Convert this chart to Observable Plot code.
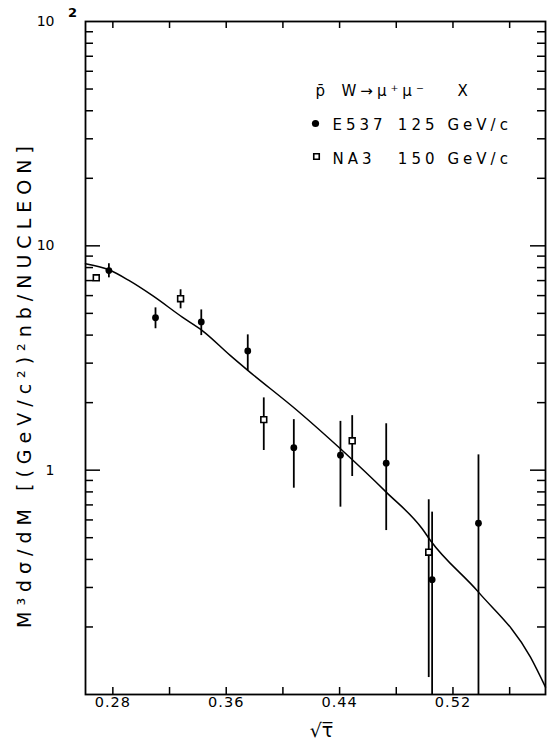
<!DOCTYPE html>
<html><head><meta charset="utf-8">
<script src="https://cdn.jsdelivr.net/npm/d3@7"></script>
<script src="https://cdn.jsdelivr.net/npm/@observablehq/plot@0.6"></script>
<style>
body{margin:0;background:#fff;}
svg{font-family:'DejaVu Sans',sans-serif;}
g[aria-description="legend"] text{letter-spacing:4px;}
g[aria-description="ytitle"] text{letter-spacing:6px;}
g[aria-description="xlabels"] text{letter-spacing:1px;}
</style></head><body><div id="chart"></div>
<script>
// E537 125 GeV/c (filled circles)
const e537X  = [0.2772, 0.3101, 0.3424, 0.3752, 0.4077, 0.4406, 0.4729, 0.5053, 0.5380];
const e537Y  = [7.76, 4.78, 4.58, 3.40, 1.26, 1.166, 1.074, 0.325, 0.580];
const e537Lo = [7.20, 4.27, 3.98, 2.78, 0.831, 0.684, 0.538, 0.10, 0.10];
const e537Hi = [8.32, 5.29, 5.18, 4.01, 1.68, 1.65, 1.61, 0.65, 1.17];
// NA3 150 GeV/c (open squares)
const na3X  = [0.2683, 0.3278, 0.3865, 0.4489, 0.5029];
const na3Y  = [7.20, 5.81, 1.68, 1.352, 0.431];
const na3Lo = [6.95, 5.24, 1.224, 0.937, 0.119];
const na3Hi = [7.45, 6.37, 2.10, 1.75, 0.738];
// theory curve
const curveX = [0.2607, 0.2772, 0.2913, 0.3078, 0.3290, 0.3431, 0.3630, 0.3748, 0.4101, 0.4406, 0.4729, 0.4983, 0.5041, 0.5380, 0.5747, 0.5853];
const curveY = [8.32, 7.82, 7.01, 6.01, 4.81, 4.19, 3.24, 2.80, 1.845, 1.245, 0.798, 0.548, 0.486, 0.286, 0.1466, 0.1078];
// ticks
const xTicks = [0.28, 0.32, 0.36, 0.40, 0.44, 0.48, 0.52, 0.56];
const xTickLabels = [0.28, 0.36, 0.44, 0.52];
const yMajor = [1, 10];
const yMinor = [0.2,0.3,0.4,0.5,0.6,0.7,0.8,0.9, 2,3,4,5,6,7,8,9, 20,30,40,50,60,70,80,90];
const yLabelValues = [1, 10, 100];
const yLabelTexts = ["1", "10", "10"];
const yExpValue = [100];
const yExpText = ["2"];
// texts
const yTitle = "M³dσ/dM [(GeV/c²)²nb/NUCLEON]";
const xTitle = "√τ\u0305";
const legendHead = ["p\u0304", "W→μ⁺μ⁻", "X"];
const series = ["E537", "NA3"];
const energies = ["125", "150"];
const unit = "GeV/c";

const e537 = e537X.map((x, i) => ({x, y: e537Y[i], lo: e537Lo[i], hi: e537Hi[i]}));
const na3 = na3X.map((x, i) => ({x, y: na3Y[i], lo: na3Lo[i], hi: na3Hi[i]}));
const curve = curveX.map((x, i) => ({x, y: curveY[i]}));

const K = "black";
const leg = {frameAnchor: "top-left", lineAnchor: "bottom", fontSize: 15, fill: K, ariaDescription: "legend"};

const plot = Plot.plot({
  width: 547, height: 744,
  marginLeft: 85, marginRight: 2, marginTop: 21, marginBottom: 50,
  x: {domain: [0.2607, 0.5853], axis: null},
  y: {type: "log", domain: [0.1, 100], axis: null},
  style: {background: "white", color: "black", fontFamily: "'DejaVu Sans', sans-serif"},
  marks: [
    Plot.tickY(yMajor, {insetRight: 445, stroke: K, strokeWidth: 1.5}),
    Plot.tickY(yMajor, {insetLeft: 445, stroke: K, strokeWidth: 1.5}),
    Plot.tickY(yMinor, {insetRight: 452, stroke: K, strokeWidth: 1.5}),
    Plot.tickY(yMinor, {insetLeft: 452, stroke: K, strokeWidth: 1.5}),
    Plot.tickX(xTicks, {insetTop: 666, stroke: K, strokeWidth: 1.5}),
    Plot.tickX(xTicks, {insetBottom: 666, stroke: K, strokeWidth: 1.5}),
    Plot.frame({stroke: K, strokeWidth: 1.8}),
    Plot.line(curve, {x: "x", y: "y", stroke: K, strokeWidth: 1.5, curve: "monotone-x"}),
    Plot.ruleX(e537, {x: "x", y1: "lo", y2: "hi", stroke: K, strokeWidth: 1.8}),
    Plot.ruleX(na3, {x: "x", y1: "lo", y2: "hi", stroke: K, strokeWidth: 1.8}),
    Plot.dot(e537, {x: "x", y: "y", r: 3.4, fill: K}),
    Plot.dot(na3, {x: "x", y: "y", r: 3.3, symbol: "square", fill: "white", stroke: K, strokeWidth: 1.6}),
    // y tick labels
    Plot.text(yLabelValues, {y: d => d, text: (d, i) => yLabelTexts[i], frameAnchor: "left", textAnchor: "end", dx: -31, fontSize: 14, fill: K}),
    Plot.text(yExpValue, {y: d => d, text: (d, i) => yExpText[i], frameAnchor: "left", textAnchor: "middle", dx: -13, dy: -9, fontSize: 13, fontWeight: "bold", fill: K}),
    // x tick labels
    Plot.text(xTickLabels, {x: d => d, text: d => d.toFixed(2), frameAnchor: "bottom", dy: 12, fontSize: 14.5, fill: K, ariaDescription: "xlabels"}),
    // axis titles
    Plot.text([xTitle], {text: d => d, frameAnchor: "bottom", dx: 6, dy: 42, lineAnchor: "bottom", fontSize: 19, fill: K}),
    Plot.text([yTitle], {text: d => d, frameAnchor: "left", rotate: -90, textAnchor: "start", dx: -61, dy: 270, fontSize: 19, fill: K, ariaDescription: "ytitle"}),
    // legend
    Plot.text([legendHead[0]], {...leg, text: d => d, dx: 230, dy: 74}),
    Plot.text([legendHead[1]], {...leg, text: d => d, dx: 256, dy: 74}),
    Plot.text([legendHead[2]], {...leg, text: d => d, dx: 372, dy: 74}),
    Plot.dot([series[0]], {frameAnchor: "top-left", dx: 230, dy: 102, r: 3.6, fill: K}),
    Plot.dot([series[1]], {frameAnchor: "top-left", dx: 231, dy: 135, r: 3.1, symbol: "square", fill: "white", stroke: K, strokeWidth: 1.6}),
    Plot.text([series[0]], {...leg, text: d => d, dx: 247, dy: 108}),
    Plot.text([series[1]], {...leg, text: d => d, dx: 247, dy: 142}),
    Plot.text([energies[0]], {...leg, text: d => d, textAnchor: "end", dx: 353, dy: 108}),
    Plot.text([energies[1]], {...leg, text: d => d, textAnchor: "end", dx: 353, dy: 142}),
    Plot.text([unit], {...leg, text: d => d, dx: 362, dy: 108}),
    Plot.text([unit], {...leg, text: d => d, dx: 362, dy: 142})
  ]
});
document.getElementById("chart").appendChild(plot);
</script>
</body></html>
